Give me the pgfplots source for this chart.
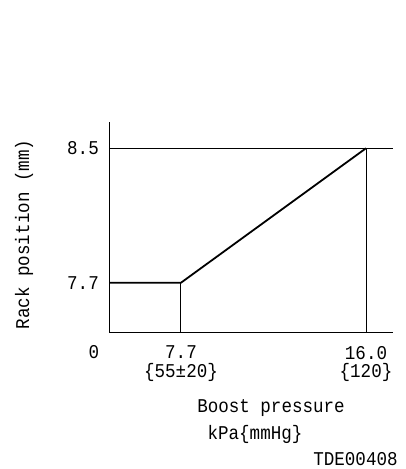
\documentclass[border=0pt]{standalone}
\usepackage{pgfplots}
\pgfplotsset{compat=1.18}
\usepackage{fontspec}
\setmainfont[FakeStretch=0.9]{Liberation Mono}
\begin{document}
\begin{tikzpicture}[x=1pt,y=1pt]
\useasboundingbox (0,0) rectangle (405,469);
\begin{axis}[at={(109pt,136.7pt)}, anchor=south west, scale only axis,
  width=284pt, height=210.6pt,
  axis x line*=bottom, axis y line*=left,
  axis line style={line width=1pt,-},
  xmin=0, xmax=17.211, ymin=7.405, ymax=8.658,
  x coord trafo/.code={\pgfmathparse{#1<7.7001 ? #1*0.58208 : 4.482+(#1-7.7)*1.38771}},
  xtick={7.7,16}, xticklabels={{7.7\\\{55±20\}},{16.0\\\{120\}}},
  ytick={7.7,8.5}, yticklabels={7.7,8.5},
  major tick length=0pt,
  /pgf/number format/assume math mode=true,
  tick label style={font=\fontsize{19.5}{18.5}\selectfont, inner sep=0pt},
  xticklabel style={align=center, yshift=-13.5pt},
  yticklabel style={xshift=-10pt},
  clip=false]
\addplot[black, line width=1.8pt] coordinates {(0,7.7) (7.7,7.7) (16,8.5)};
\addplot[black, line width=1pt] coordinates {(7.7,7.405) (7.7,7.7)};
\addplot[black, line width=1pt] coordinates {(16,7.405) (16,8.5)};
\addplot[black, line width=1pt] coordinates {(0,8.5) (17.211,8.5)};
\end{axis}
\begin{scope}[every node/.style={font=\fontsize{19.5}{16}\selectfont, inner sep=0pt}]
\node at (94,117) {0};
\node at (271,61) {Boost pressure};
\node at (255,35) {kPa\{mmHg\}};
\node at (355.5,9.5) {TDE00408};
\node[rotate=90] at (24,234.5) {Rack position (mm)};
\end{scope}
\end{tikzpicture}
\end{document}
